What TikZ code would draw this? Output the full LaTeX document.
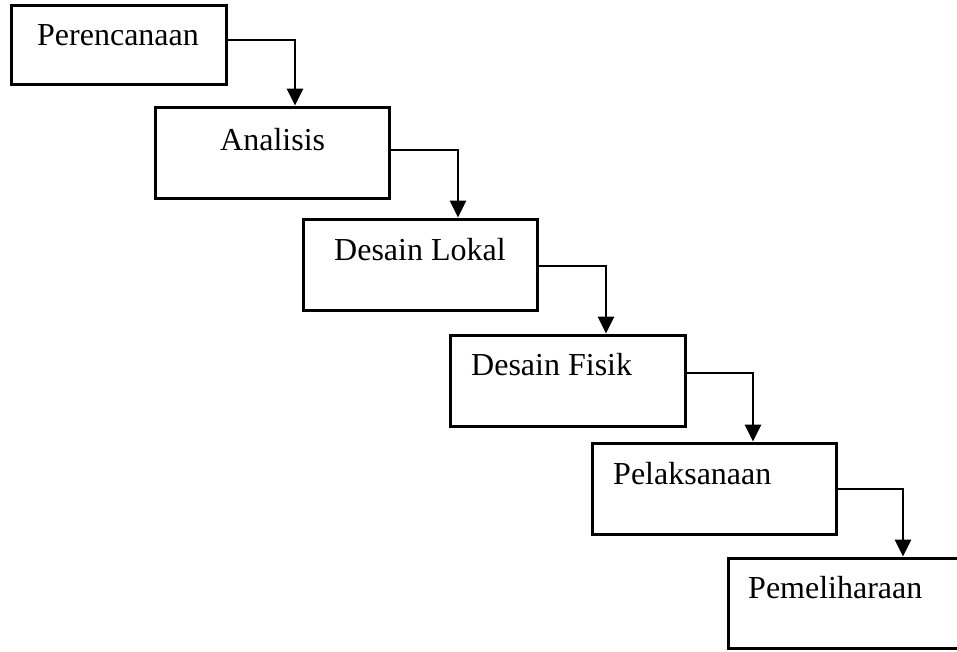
\documentclass[tikz,border=0pt]{standalone}
\usepackage{fontspec}
\setmainfont{Liberation Serif}
\usetikzlibrary{arrows.meta}
\begin{document}
\begin{tikzpicture}[x=1pt,y=-1pt,
  stagebox/.style={draw=black,line width=3pt,rectangle,inner sep=0pt,fill=white},
  stagetext/.style={anchor=base west,inner sep=0pt,font=\fontsize{32}{38}\selectfont},
  flow/.style={draw=black,line width=2.8pt,-{Triangle[width=16pt,length=17pt]}}]
  \useasboundingbox (0,0) rectangle (957,651);
  \clip (0,0) rectangle (957,651);
  \fill[white] (0,0) rectangle (957,651);

  % stage boxes
  \node[stagebox,minimum width=215pt,minimum height=79pt] (b1) at (118.5,44.5) {};
  \node[stagebox,minimum width=234pt,minimum height=91pt] (b2) at (272,152.5) {};
  \node[stagebox,minimum width=234pt,minimum height=91pt] (b3) at (420,264.5) {};
  \node[stagebox,minimum width=235pt,minimum height=91pt] (b4) at (567.5,380.5) {};
  \node[stagebox,minimum width=244pt,minimum height=91pt] (b5) at (714,488.5) {};
  \node[stagebox,minimum width=244pt,minimum height=90pt] (b6) at (850,603) {};

  % stage labels
  \node[stagetext] (t1) at (37,45) {Perencanaan};
  \node[stagetext] (t2) at (220,150) {Analisis};
  \node[stagetext] (t3) at (334,260) {Desain Lokal};
  \node[stagetext] (t4) at (471,375) {Desain Fisik};
  \node[stagetext] (t5) at (613,484) {Pelaksanaan};
  \node[stagetext] (t6) at (748,598) {Pemeliharaan};

  % connectors between stages
  \draw[flow] ([yshift=4.5pt]b1.east) -| ([xshift=23pt]b2.north);
  \draw[flow] ([yshift=2.5pt]b2.east) -| ([xshift=38pt]b3.north);
  \draw[flow] ([yshift=-1.5pt]b3.east) -| ([xshift=38.5pt]b4.north);
  \draw[flow] ([yshift=7.5pt]b4.east) -| ([xshift=39pt]b5.north);
  \draw[flow] ([yshift=-0.5pt]b5.east) -| ([xshift=53pt]b6.north);
\end{tikzpicture}
\end{document}
